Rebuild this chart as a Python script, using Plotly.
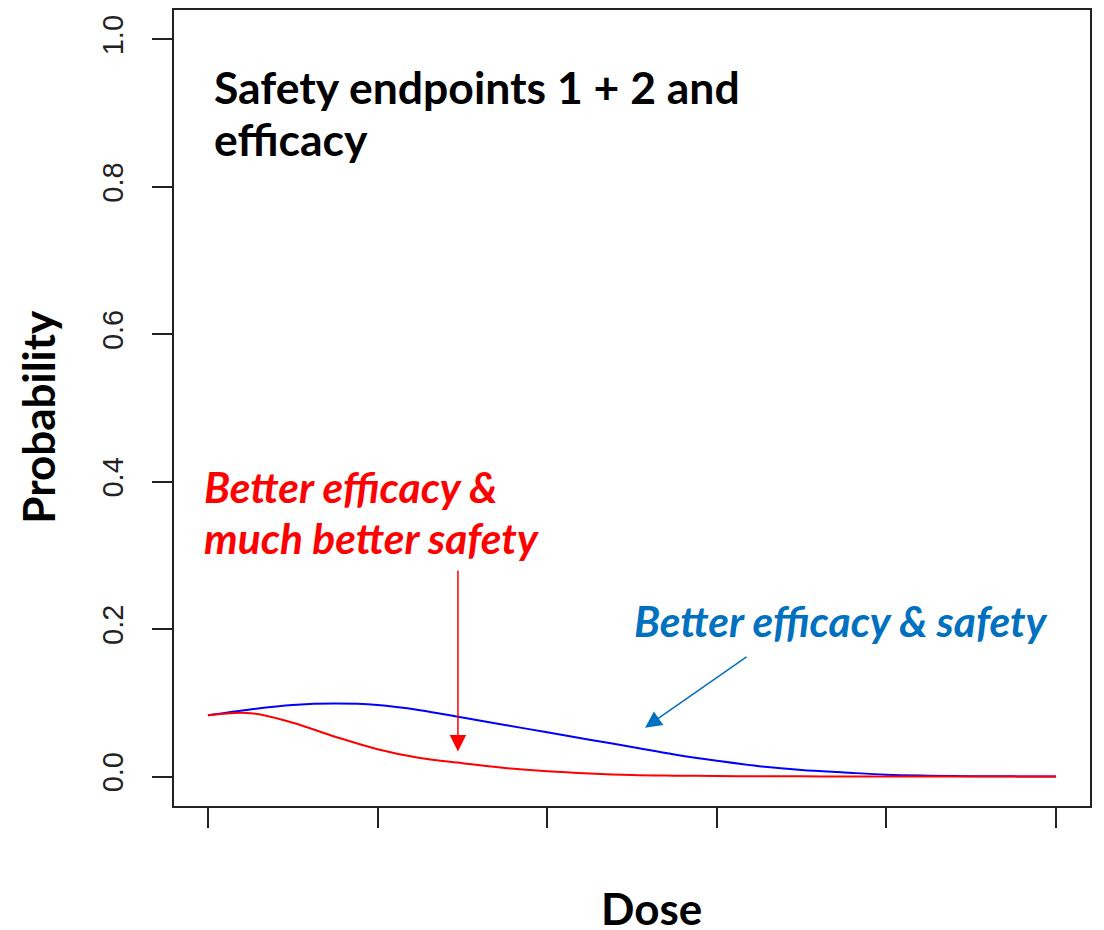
import plotly.graph_objects as go

# Dose grid (axis units; 6 unlabeled ticks at 0..5)
dose = [0, 0.25, 0.5, 0.75, 1.0, 1.25, 1.5, 1.75, 2.0, 2.25, 2.5, 2.75,
        3.0, 3.25, 3.5, 3.75, 4.0, 4.25, 4.5, 4.75, 5.0]
# Blue curve: better efficacy & safety
prob_blue = [0.083, 0.091, 0.097, 0.099, 0.097, 0.090, 0.080, 0.070, 0.060,
             0.050, 0.040, 0.030, 0.0215, 0.014, 0.0088, 0.0055, 0.0025,
             0.0012, 0.0005, 0.0002, 0.0]
# Red curve: better efficacy & much better safety
prob_red = [0.083, 0.086, 0.073, 0.054, 0.037, 0.025, 0.018, 0.0115, 0.007,
            0.004, 0.002, 0.0012, 0.0007, 0.0004, 0.0002, 0.0001, 0.0,
            0.0, 0.0, 0.0, 0.0]

x_ticks = [0, 1, 2, 3, 4, 5]
y_ticks = [0.0, 0.2, 0.4, 0.6, 0.8, 1.0]
y_tick_labels = ["0.0", "0.2", "0.4", "0.6", "0.8", "1.0"]

title_lines = ["Safety endpoints 1 + 2 and", "efficacy"]
red_lines = ["Better efficacy &", "much better safety"]
blue_label = "Better efficacy & safety"

RED = "#FF0000"
BLUE_LINE = "#0000FF"
BLUE_TXT = "#0070C0"
AX = "#222222"
FONT = "Lato"

fig = go.Figure()
fig.add_trace(go.Scatter(x=dose, y=prob_blue, mode="lines", line_shape="spline",
                         line=dict(color=BLUE_LINE, width=2), showlegend=False))
fig.add_trace(go.Scatter(x=dose, y=prob_red, mode="lines", line_shape="spline",
                         line=dict(color=RED, width=2), showlegend=False))

ann = []
# title lines
ann.append(dict(x=0.024, y=0.936, xref="x", yref="y", text=title_lines[0],
                showarrow=False, xanchor="left", yanchor="middle",
                font=dict(family=FONT, size=44.5, color="black", weight="bold")))
ann.append(dict(x=0.024, y=0.865, xref="x", yref="y", text=title_lines[1],
                showarrow=False, xanchor="left", yanchor="middle",
                font=dict(family=FONT, size=44.5, color="black", weight="bold")))
# red labels
ann.append(dict(x=-0.034, y=0.394, xref="x", yref="y", text=red_lines[0],
                showarrow=False, xanchor="left", yanchor="middle",
                font=dict(family=FONT, size=42.5, color=RED, weight="bold", style="italic")))
ann.append(dict(x=-0.034, y=0.3245, xref="x", yref="y", text=red_lines[1],
                showarrow=False, xanchor="left", yanchor="middle",
                font=dict(family=FONT, size=42.5, color=RED, weight="bold", style="italic")))
# blue label
ann.append(dict(x=2.50, y=0.212, xref="x", yref="y", text=blue_label,
                showarrow=False, xanchor="left", yanchor="middle",
                font=dict(family=FONT, size=42.5, color=BLUE_TXT, weight="bold", style="italic")))
# arrows
ann.append(dict(x=1.474, y=0.034, ax=1.474, ay=0.2815, xref="x", yref="y",
                axref="x", ayref="y", text="", showarrow=True, arrowhead=2,
                arrowsize=2.2, arrowwidth=1.5, arrowcolor=RED))
ann.append(dict(x=2.577, y=0.0663, ax=3.184, ay=0.1637, xref="x", yref="y",
                axref="x", ayref="y", text="", showarrow=True, arrowhead=2,
                arrowsize=2.2, arrowwidth=1.5, arrowcolor=BLUE_TXT))
# axis titles
ann.append(dict(x=0, y=0.489, xref="paper", yref="paper", xshift=-136,
                text="Probability", textangle=-90, showarrow=False,
                xanchor="center", yanchor="middle",
                font=dict(family=FONT, size=44, color="black", weight="bold")))
ann.append(dict(x=0.521, y=-0.128, xref="paper", yref="paper",
                text="Dose", showarrow=False, xanchor="center", yanchor="middle",
                font=dict(family=FONT, size=44, color="black", weight="bold")))

# page body has an 8px margin, so the figure is sized/offset to compensate
fig.update_layout(
    width=1096, height=922,
    margin=dict(l=166, r=14, t=0, b=124),
    paper_bgcolor="white", plot_bgcolor="white",
    annotations=ann,
)
fig.update_xaxes(range=[-0.2, 5.2], tickvals=x_ticks, showticklabels=False,
                 ticks="outside", ticklen=20, tickwidth=2, tickcolor=AX,
                 showline=True, mirror=True, linecolor=AX, linewidth=2,
                 showgrid=False, zeroline=False)
fig.update_yaxes(range=[-0.04, 1.04], tickvals=y_ticks, ticktext=y_tick_labels,
                 tickangle=-90, ticks="outside", ticklen=20, tickwidth=2,
                 tickcolor=AX, ticklabelstandoff=17,
                 tickfont=dict(family="Liberation Sans", size=29, color=AX),
                 showline=True, mirror=True, linecolor=AX, linewidth=2,
                 showgrid=False, zeroline=False)

fig.write_html("out.html")
